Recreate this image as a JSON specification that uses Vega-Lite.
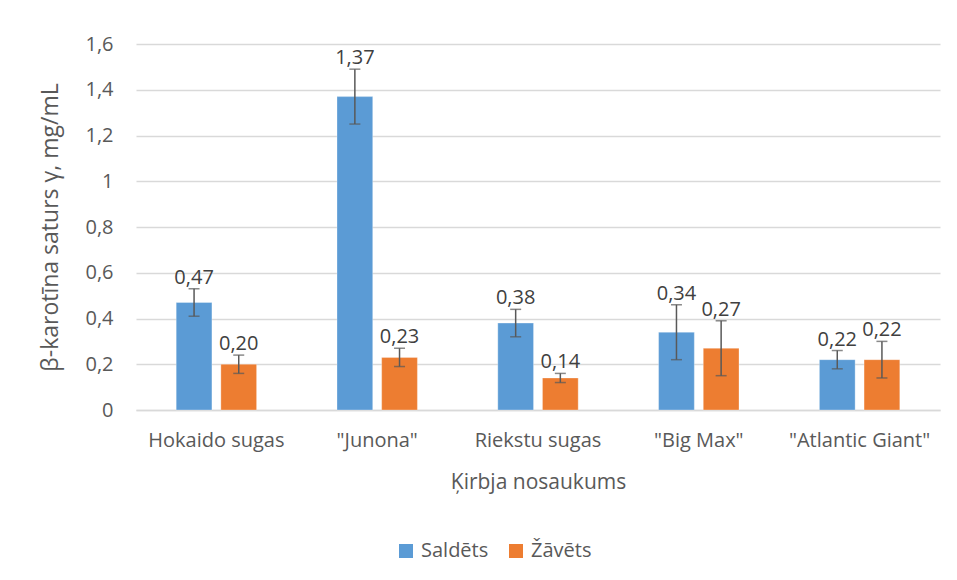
{
  "$schema": "https://vega.github.io/schema/vega-lite/v6.json",
  "width": 804,
  "height": 366,
  "autosize": {"type": "none"},
  "padding": {"left": 136, "top": 44, "right": 17, "bottom": 170},
  "background": "white",
  "data": {
    "values": [
      {"name": "Hokaido sugas", "type": "Saldēts", "value": 0.47, "low": 0.41, "high": 0.53},
      {"name": "Hokaido sugas", "type": "Žāvēts", "value": 0.20, "low": 0.16, "high": 0.24},
      {"name": "\"Junona\"", "type": "Saldēts", "value": 1.37, "low": 1.25, "high": 1.49},
      {"name": "\"Junona\"", "type": "Žāvēts", "value": 0.23, "low": 0.19, "high": 0.27},
      {"name": "Riekstu sugas", "type": "Saldēts", "value": 0.38, "low": 0.32, "high": 0.44},
      {"name": "Riekstu sugas", "type": "Žāvēts", "value": 0.14, "low": 0.12, "high": 0.16},
      {"name": "\"Big Max\"", "type": "Saldēts", "value": 0.34, "low": 0.22, "high": 0.46},
      {"name": "\"Big Max\"", "type": "Žāvēts", "value": 0.27, "low": 0.15, "high": 0.39},
      {"name": "\"Atlantic Giant\"", "type": "Saldēts", "value": 0.22, "low": 0.18, "high": 0.26},
      {"name": "\"Atlantic Giant\"", "type": "Žāvēts", "value": 0.22, "low": 0.14, "high": 0.30}
    ]
  },
  "encoding": {
    "x": {
      "field": "name", "type": "nominal", "sort": null,
      "scale": {"paddingInner": 0.5, "paddingOuter": 0.25},
      "axis": {
        "title": "Ķirbja nosaukums", "labelAngle": 0, "ticks": false,
        "domainColor": "#d9d9d9", "domainWidth": 1.3,
        "labelPadding": 20, "labelFontSize": 20, "labelColor": "#595959",
        "labelFont": "Open Sans", "titleFont": "Open Sans", "titleFontWeight": "normal",
        "titleFontSize": 21, "titleColor": "#595959", "titlePadding": 21
      }
    },
    "xOffset": {"field": "type", "type": "nominal", "scale": {"paddingInner": 0.2}}
  },
  "layer": [
    {
      "mark": {"type": "bar", "stroke": "white", "strokeOpacity": 0.3, "strokeWidth": 1},
      "encoding": {
        "y": {
          "field": "value", "type": "quantitative",
          "scale": {"domain": [0, 1.6]},
          "axis": {
            "title": "β-karotīna  saturs γ, mg/mL", "values": [0, 0.2, 0.4, 0.6, 0.8, 1, 1.2, 1.4, 1.6],
            "format": ".1~f", "domain": false, "ticks": false,
            "gridColor": "#d9d9d9", "gridWidth": 1.3,
            "labelPadding": 23, "labelFontSize": 20, "labelColor": "#595959",
            "labelFont": "Open Sans", "titleFont": "Open Sans", "titleFontWeight": "normal",
            "titleFontSize": 23, "titleColor": "#595959", "titlePadding": 22
          }
        },
        "color": {
          "field": "type", "type": "nominal",
          "scale": {"domain": ["Saldēts", "Žāvēts"], "range": ["#5B9BD5", "#ED7D31"]},
          "legend": {
            "title": null, "orient": "none", "direction": "horizontal",
            "legendX": 260, "legendY": 497,
            "symbolType": "square", "symbolSize": 196, "symbolStrokeWidth": 0,
            "labelFontSize": 20, "labelColor": "#595959", "labelFont": "Open Sans",
            "columnPadding": 17, "labelOffset": 5
          }
        }
      }
    },
    {
      "mark": {"type": "rule", "color": "#595959", "strokeWidth": 1.5},
      "encoding": {
        "y": {"field": "low", "type": "quantitative"},
        "y2": {"field": "high"}
      }
    },
    {
      "mark": {"type": "tick", "color": "#595959", "thickness": 1.5, "size": 11},
      "encoding": {"y": {"field": "low", "type": "quantitative"}}
    },
    {
      "mark": {"type": "tick", "color": "#595959", "thickness": 1.5, "size": 11},
      "encoding": {"y": {"field": "high", "type": "quantitative"}}
    },
    {
      "mark": {"type": "text", "baseline": "bottom", "dy": -1, "fontSize": 20, "color": "#404040", "font": "Open Sans"},
      "encoding": {
        "y": {"field": "high", "type": "quantitative"},
        "text": {"field": "value", "type": "quantitative", "format": ".2f"}
      }
    }
  ],
  "config": {
    "view": {"stroke": null},
    "locale": {"number": {"decimal": ",", "thousands": " ", "grouping": [3], "currency": ["", " €"]}}
  }
}
